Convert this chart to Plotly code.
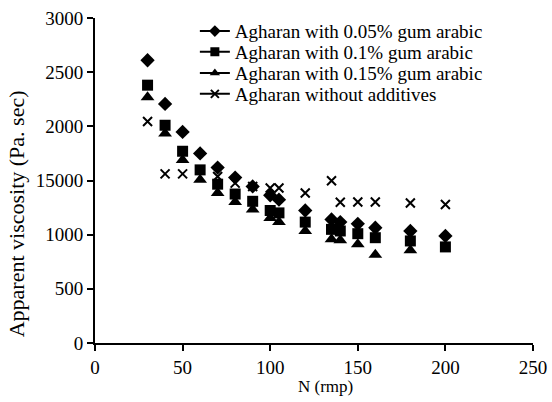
import plotly.graph_objects as go

# Data
x_005 = [30, 40, 50, 60, 70, 80, 90, 100, 105, 120, 135, 140, 150, 160, 180, 200]
y_005 = [2610, 2207, 1948, 1750, 1619, 1527, 1445, 1363, 1323, 1223, 1140, 1116, 1100, 1064, 1034, 988]

x_01 = [30, 40, 50, 60, 70, 80, 90, 100, 105, 120, 135, 140, 150, 160, 180, 200]
y_01 = [2380, 2010, 1770, 1598, 1466, 1375, 1308, 1223, 1201, 1116, 1049, 1034, 1009, 972, 942, 887]

x_015 = [30, 40, 50, 60, 70, 80, 90, 100, 105, 120, 135, 140, 150, 160, 180]
y_015 = [2268, 1933, 1689, 1506, 1384, 1302, 1232, 1155, 1116, 1034, 958, 948, 912, 814, 857]

x_none = [30, 40, 50, 70, 80, 90, 100, 105, 120, 135, 140, 150, 160, 180, 200]
y_none = [2045, 1561, 1561, 1537, 1476, 1445, 1430, 1430, 1384, 1497, 1299, 1302, 1302, 1293, 1278]

names = ["Agharan with 0.05% gum arabic", "Agharan with 0.1% gum arabic",
         "Agharan with 0.15% gum arabic", "Agharan without additives"]

y_tickvals = [0, 500, 1000, 1500, 2000, 2500, 3000]
y_ticktext = ["0", "500", "1000", "15000", "2000", "2500", "3000"]
x_tickvals = [0, 50, 100, 150, 200, 250]

FONT = "Liberation Serif"
series = [
    (x_005, y_005, "diamond", 11),
    (x_01, y_01, "square", 11),
    (x_015, y_015, "triangle-up", 12),
    (x_none, y_none, "x-thin", 9),
]

fig = go.Figure()
for (xs, ys, sym, sz), nm in zip(series, names):
    fig.add_trace(go.Scatter(
        x=xs, y=ys, mode="markers", showlegend=False,
        marker=dict(symbol=sym, size=sz, color="black",
                    line=dict(color="black", width=2 if sym == "x-thin" else 0)),
    ))

legend_ids = ["legend", "legend2", "legend3", "legend4"]
legend_rows = [0.9594, 0.8954, 0.8302, 0.7662]
for (xs, ys, sym, sz), nm, lid in zip(series, names, legend_ids):
    fig.add_trace(go.Scatter(
        x=[None], y=[None], mode="lines+markers", name=nm, legend=lid,
        line=dict(color="black", width=2),
        marker=dict(symbol=sym, size=9 if sym != "x-thin" else 8, color="black",
                    line=dict(color="black", width=2 if sym == "x-thin" else 0)),
    ))

legend_cfg = {}
for lid, ry in zip(legend_ids, legend_rows):
    legend_cfg[lid] = dict(x=0.228, y=ry, xanchor="left", yanchor="middle",
                           bgcolor="rgba(0,0,0,0)", borderwidth=0,
                           font=dict(family=FONT, size=19, color="black"),
                           itemwidth=30)

axis_common = dict(showgrid=False, zeroline=False, automargin=False,
                   showline=True, linecolor="black", linewidth=2,
                   ticks="outside", ticklen=6, tickwidth=2, tickcolor="black",
                   tickfont=dict(family=FONT, size=19, color="black"))

fig.update_layout(
    template="none",
    width=552, height=402,
    margin=dict(l=95, r=19, t=15, b=59),
    paper_bgcolor="white", plot_bgcolor="white",
    font=dict(family=FONT, size=19, color="black"),
    xaxis=dict(range=[0, 250], tickvals=x_tickvals, **axis_common),
    yaxis=dict(range=[0, 3000], tickvals=y_tickvals, ticktext=y_ticktext, **axis_common),
    annotations=[
        dict(text="N (rmp)", xref="paper", yref="paper", x=(325 - 95) / 438, y=-0.134,
             xanchor="center", yanchor="middle", showarrow=False,
             font=dict(family=FONT, size=17, color="black")),
        dict(text="Apparent viscosity (Pa. sec)", xref="paper", yref="paper",
             x=(16 - 95) / 438, y=0.396, xanchor="center", yanchor="middle",
             textangle=-90, showarrow=False,
             font=dict(family=FONT, size=22, color="black")),
    ],
    **legend_cfg,
)

# remove the default page margin so the figure starts at the window corner
fig.write_html("out.html", config={"displayModeBar": False},
               post_script="document.body.style.margin='0px';")
